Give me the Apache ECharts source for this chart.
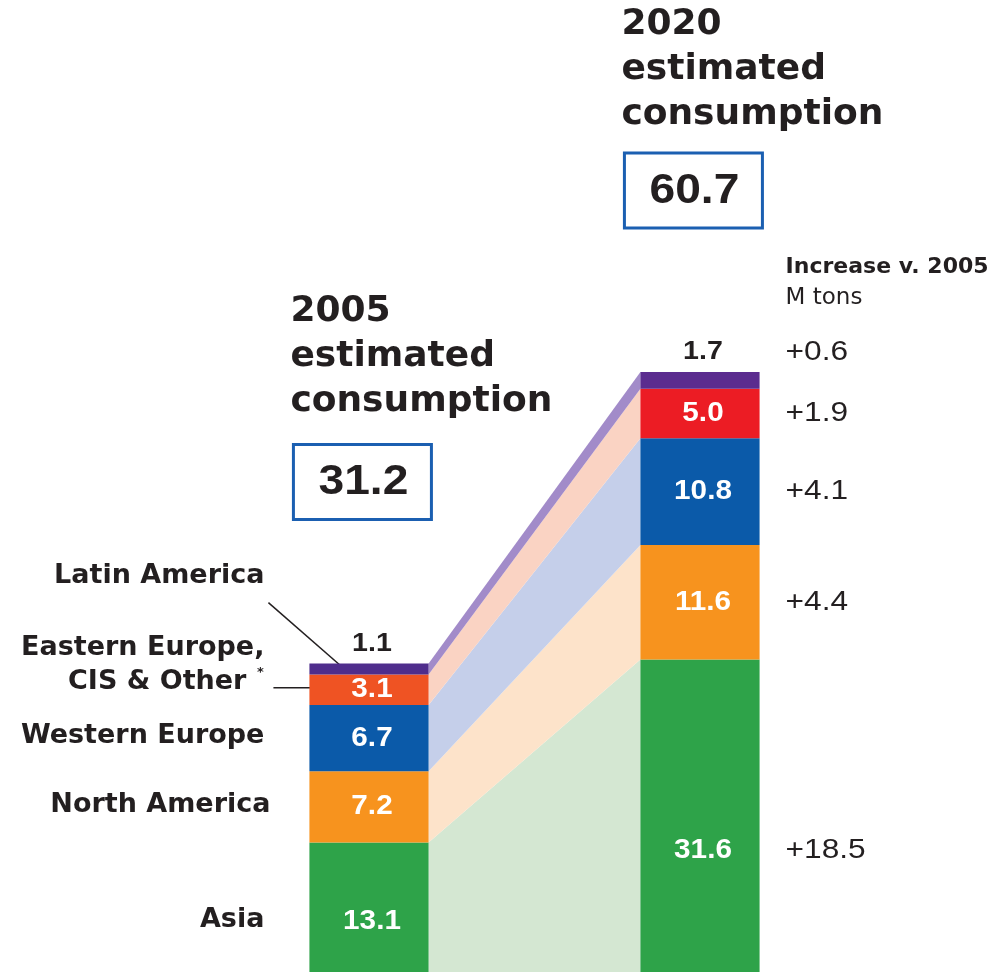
<!DOCTYPE html>
<html>
<head>
<meta charset="utf-8">
<script src="https://cdn.jsdelivr.net/npm/echarts@6/dist/echarts.min.js"></script>
<style>
  html, body { margin: 0; padding: 0; background: #fff; }
  #chart { width: 1001px; height: 972px; }
</style>
</head>
<body>
<div id="chart"></div>
<script>
// regions, bottom of the stack first
const regions = ['Asia', 'North America', 'Western Europe', 'Eastern Europe, CIS & Other', 'Latin America'];
const years = ['2005', '2020'];
const values2005 = [13.1, 7.2, 6.7, 3.1, 1.1];
const values2020 = [31.6, 11.6, 10.8, 5.0, 1.7];

// styles
const barColors = [
    ['#2ea349', '#f7931e', '#0b5aa9', '#ef5323', '#4f2d8c'],
    ['#2ea349', '#f7931e', '#0b5aa9', '#ec1c24', '#5b2c8f']
];
const bandColors = ['#d4e7d2', '#fde3ca', '#c5cfea', '#fad3c3', '#a28bc9'];
const INK = '#231f20';
const BOX_BLUE = '#1b5fb1';
const WORD_FONT = 'DejaVu Sans';
const NUM_FONT = 'Liberation Sans';
const NUM_STRETCH = 1.1; // numbers in the original are set a little wide
const BAR_HALF = 0.18; // half bar width in x units
const xPos = [0, 1];

const stacks = [values2005, values2020];
const sum = arr => arr.reduce((a, b) => a + b, 0);

// segments: [x, lo, hi, regionIdx, yearIdx, value]
const barData = [];
stacks.forEach((vals, yi) => {
    let base = 0;
    vals.forEach((v, ri) => {
        barData.push([xPos[yi], base, base + v, ri, yi, v]);
        base += v;
    });
});

// bands: [x, lo05, hi05, lo20, hi20, regionIdx]
const bandData = regions.map((r, ri) => {
    const lo05 = sum(values2005.slice(0, ri));
    const lo20 = sum(values2020.slice(0, ri));
    return [xPos[0] + BAR_HALF, lo05, lo05 + values2005[ri], lo20, lo20 + values2020[ri], ri];
});

// where a segment's value label sits (data units)
function labelValue(lo, v, ri) {
    if (ri === 0) return lo + v * 0.39;
    return lo + v / 2;
}

const chart = echarts.init(document.getElementById('chart'));

const option = {
    animation: false,
    grid: { left: 203.5, right: 135.5, top: 280, bottom: 0 },
    xAxis: { type: 'value', min: -0.5, max: 1.5, show: false },
    yAxis: { type: 'value', min: 0, max: 70, show: false },
    series: [
        {
            type: 'custom',
            name: 'bands',
            data: bandData,
            renderItem: function (params, api) {
                const ri = api.value(5);
                const a = api.coord([xPos[0] + BAR_HALF, api.value(1)]);
                const b = api.coord([xPos[1] - BAR_HALF, api.value(3)]);
                const c = api.coord([xPos[1] - BAR_HALF, api.value(4)]);
                const d = api.coord([xPos[0] + BAR_HALF, api.value(2)]);
                return {
                    type: 'polygon',
                    shape: { points: [a, b, c, d] },
                    style: { fill: bandColors[ri] }
                };
            }
        },
        {
            type: 'custom',
            name: 'bars',
            data: barData,
            z: 3,
            renderItem: function (params, api) {
                const x = api.value(0), lo = api.value(1), hi = api.value(2);
                const ri = api.value(3), yi = api.value(4), v = api.value(5);
                const p0 = api.coord([x - BAR_HALF, hi]);
                const p1 = api.coord([x + BAR_HALF, lo]);
                const isTop = ri === regions.length - 1;
                const ly = isTop ? p0[1] - 20 : api.coord([x, labelValue(lo, v, ri)])[1];
                return {
                    type: 'group',
                    children: [
                        {
                            type: 'rect',
                            shape: { x: p0[0], y: p0[1], width: p1[0] - p0[0], height: p1[1] - p0[1] },
                            style: { fill: barColors[yi][ri] }
                        },
                        {
                            type: 'text',
                            x: (p0[0] + p1[0]) / 2 + 3,
                            y: ly,
                            scaleX: NUM_STRETCH,
                            style: {
                                text: v.toFixed(1),
                                fill: isTop ? INK : '#fff',
                                fontFamily: NUM_FONT,
                                fontWeight: 'bold',
                                fontSize: isTop ? 26 : 27,
                                align: 'center',
                                verticalAlign: 'middle'
                            }
                        }
                    ]
                };
            }
        }
    ]
};

chart.setOption(option);

// annotations placed from the bar geometry
const px = (x, y) => chart.convertToPixel({ gridIndex: 0 }, [x, y]);
const graphics = [];

function txt(x, y, text, size, weight, align, family, stretch) {
    graphics.push({
        type: 'text', x: x, y: y, silent: true, scaleX: stretch || 1,
        style: {
            text: text, fill: INK, fontSize: size, fontWeight: weight || 'normal',
            fontFamily: family || WORD_FONT, align: align || 'left', verticalAlign: 'middle'
        }
    });
}

function line(x1, y1, x2, y2) {
    graphics.push({
        type: 'line', silent: true,
        shape: { x1: x1, y1: y1, x2: x2, y2: y2 },
        style: { stroke: INK, lineWidth: 1.5 }
    });
}

stacks.forEach((vals, yi) => {
    const top = px(xPos[yi] - BAR_HALF, sum(vals));
    const left = top[0], barTop = top[1];
    const shift = yi === 1 ? 5 : 0;
    // title
    txt(left - 19, barTop - 352 + shift, years[yi], 36, 'bold');
    txt(left - 19, barTop - 307 + shift, 'estimated', 36, 'bold');
    txt(left - 19, barTop - 262 + shift, 'consumption', 36, 'bold');
    // total box
    graphics.push({
        type: 'rect', silent: true,
        shape: { x: left - 16, y: barTop - 219, width: 138, height: 75 },
        style: { fill: '#fff', stroke: BOX_BLUE, lineWidth: 3 }
    });
    txt(left - 16 + 70, barTop - 219 + 38, sum(vals).toFixed(1), 42, 'bold', 'center', NUM_FONT, NUM_STRETCH);
});

// increase column
const right20 = px(xPos[1] + BAR_HALF, 0)[0];
const top20 = px(xPos[1], sum(values2020))[1];
txt(right20 + 26, top20 - 105, 'Increase v. 2005', 22, 'bold');
txt(right20 + 26, top20 - 74, 'M tons', 23);
values2020.forEach((v, ri) => {
    const lo = sum(values2020.slice(0, ri));
    const isTop = ri === regions.length - 1;
    const y = isTop ? top20 - 20 : px(xPos[1], labelValue(lo, v, ri))[1];
    txt(right20 + 26, y, '+' + (v - values2005[ri]).toFixed(1), 28, 'normal', 'left', NUM_FONT, 1.13);
});

// region labels on the left of the 2005 bar
const left05 = px(xPos[0] - BAR_HALF, 0)[0];
const labelRight = left05 - 45;
values2005.forEach((v, ri) => {
    const lo = sum(values2005.slice(0, ri));
    const mid = px(xPos[0], lo + v / 2)[1];
    const ly = px(xPos[0], labelValue(lo, v, ri))[1];
    if (ri === 4) {
        const top05 = px(xPos[0], lo + v)[1];
        txt(labelRight, top05 - 88, regions[ri], 27, 'bold', 'right');
        line(left05 - 41, top05 - 61, left05 + 35, mid);
    } else if (ri === 3) {
        txt(labelRight, mid - 42, 'Eastern Europe,', 27, 'bold', 'right');
        txt(labelRight - 18, mid - 8, 'CIS & Other', 27, 'bold', 'right');
        txt(labelRight - 4, mid - 17, '*', 13, 'bold', 'center');
        line(left05 - 36, mid - 2, left05 + 20, mid - 2);
    } else {
        txt(labelRight + (ri === 1 ? 6 : 0), ly - 2, regions[ri], 27, 'bold', 'right');
    }
});

chart.setOption({ graphic: graphics });
</script>
</body>
</html>
